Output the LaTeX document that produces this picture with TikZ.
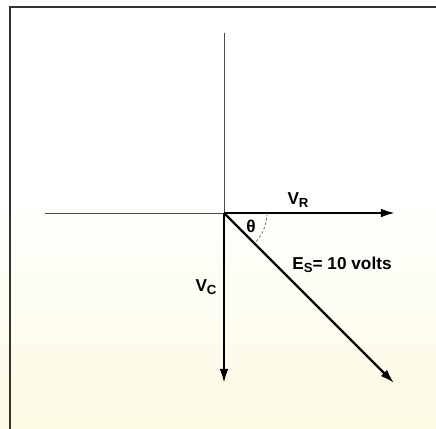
\documentclass[tikz,border=0pt]{standalone}
\usepackage{fontspec}
\setmainfont{Liberation Sans}
\usetikzlibrary{arrows.meta}
\definecolor{paper}{RGB}{252,250,226}
\tikzset{
    vec/.style={line width=1.3pt, -{Latex[length=8pt,width=5pt]}},
    axis/.style={line width=0.5pt, black!70},
    lbl/.style={font=\fontsize{9.8}{11}\selectfont\bfseries, inner sep=1pt}
}
\newcommand{\sub}[1]{\raisebox{-0.35ex}{\fontsize{7.5}{8}\selectfont #1}}
\begin{document}
\begin{tikzpicture}[x=0.02cm, y=0.02cm]
            \useasboundingbox (0,0) rectangle (436,429);
            \fill[white] (0,0) rectangle (436,429);
            \shade[top color=white, bottom color=paper] (0,0) rectangle (436,240);

            % frame
            \draw[line width=0.8pt, black!80] (10,0) -- (10,422) -- (436,422);

            \coordinate (O) at (224,216);
            \coordinate (left) at (45,216);
            \coordinate (top) at (224,396);
            \coordinate (vr) at (395,216);
            \coordinate (vc) at (224,46);
            \coordinate (es) at (394,46);

            \draw[axis] (left) -- (O);
            \draw[axis] (top) -- (O);

            \draw[vec] (O) -- (vr);
            \draw[vec] (O) -- (vc);
            \draw[vec] (O) -- (es);

            \draw[dash pattern=on 1.5pt off 1.2pt, line width=0.4pt, black!60] (267,216) arc[start angle=0, end angle=-45, radius=43];

            \node[lbl] (vrlabel) at (298,229) {V\sub{R}};
            \node[lbl] (vclabel) at (206,142) {V\sub{C}};
            \node[lbl] (theta) at (251,203) {θ};
            \node[lbl] (eslabel) at (342,164) {E\sub{S}= 10 volts};
        \end{tikzpicture}
\end{document}
